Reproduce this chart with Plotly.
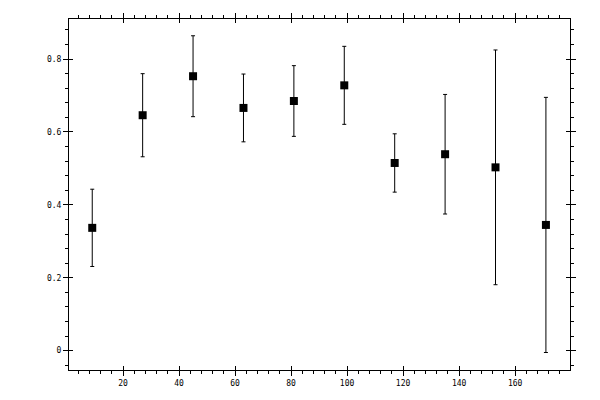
import plotly.graph_objects as go

# values
angle = [9, 27, 45, 63, 81, 99, 117, 135, 153, 171]
value = [0.337, 0.646, 0.753, 0.666, 0.685, 0.728, 0.515, 0.539, 0.503, 0.345]
error = [0.106, 0.114, 0.111, 0.093, 0.097, 0.107, 0.080, 0.164, 0.322, 0.350]

x_range = [0.7, 179.6]
y_range = [-0.053, 0.91]
font = dict(family="DejaVu Sans Mono", size=8, color="black")

fig = go.Figure()
fig.add_trace(go.Scatter(
    x=angle, y=value, mode="markers",
    marker=dict(symbol="square", size=8, color="black"),
    error_y=dict(type="data", array=error, visible=True, color="black", thickness=1, width=2),
    showlegend=False,
))
# empty trace so the overlay axes (inner half of the major ticks) get drawn
fig.add_trace(go.Scatter(x=[None], y=[None], xaxis="x2", yaxis="y2", showlegend=False, hoverinfo="skip"))

axis_common = dict(
    showgrid=False, zeroline=False, showline=True, linecolor="black", linewidth=1,
    mirror="ticks", ticks="outside", ticklen=5, tickwidth=1, tickcolor="black",
    tickfont=font, automargin=False,
)
# the page body adds an 8px offset, so margins are shifted to compensate
fig.update_layout(
    width=600, height=400,
    margin=dict(l=61, r=38, t=11, b=38, pad=0, autoexpand=False),
    plot_bgcolor="white", paper_bgcolor="white",
    xaxis=dict(range=x_range, dtick=20, tick0=0,
               minor=dict(dtick=4, ticks="outside", ticklen=3, tickcolor="black"),
               **axis_common),
    yaxis=dict(range=y_range, dtick=0.2, tick0=0,
               minor=dict(dtick=0.04, ticks="outside", ticklen=3, tickcolor="black"),
               **axis_common),
    xaxis2=dict(range=x_range, dtick=20, tick0=0, overlaying="x", anchor="y2",
                showgrid=False, zeroline=False, showline=False, mirror="ticks",
                ticks="inside", ticklen=4, tickcolor="black", showticklabels=False),
    yaxis2=dict(range=y_range, dtick=0.2, tick0=0, overlaying="y", anchor="x2",
                showgrid=False, zeroline=False, showline=False, mirror="ticks",
                ticks="inside", ticklen=4, tickcolor="black", showticklabels=False),
)

fig.write_html("out.html")
